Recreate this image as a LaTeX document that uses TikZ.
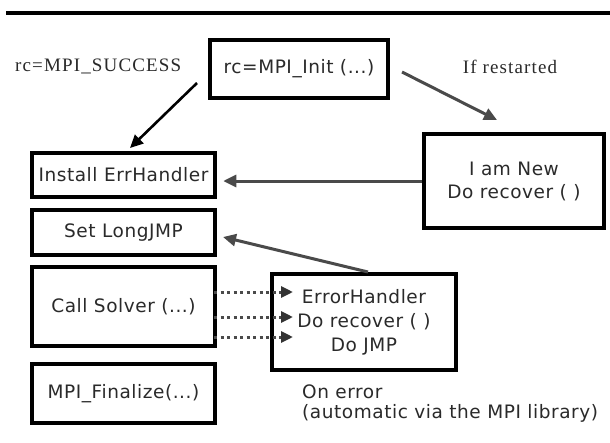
\documentclass[tikz,border=0pt]{standalone}
\usepackage{fontspec}
\setmainfont{Liberation Serif}[LetterSpace=6]
\newfontfamily\sansf{DejaVu Sans}[LetterSpace=3]
\usetikzlibrary{arrows.meta,calc}
\definecolor{arrgray}{HTML}{4A4A4A}
\definecolor{txt}{HTML}{2A2A2A}
\definecolor{tipcol}{HTML}{333333}
\begin{document}
\begin{tikzpicture}[x=1pt,y=-1pt,
  box/.style={draw=black,line width=4.5pt,rectangle,inner sep=0pt,text=txt,
    font=\sansf\fontsize{18.5}{24}\selectfont,align=center},
  lbl/.style={text=txt,font=\fontsize{19}{20}\selectfont,inner sep=0pt},
  slbl/.style={text=txt,font=\sansf\fontsize{18.5}{20}\selectfont,inner sep=0pt,align=left},
  garrow/.style={draw=arrgray,line width=3pt,-{Triangle[length=13pt,width=12pt]}},
  barrow/.style={draw=black,line width=2.6pt,-{Triangle[length=13pt,width=12pt]}},
  darrow/.style={draw=arrgray,line width=3pt,dash pattern=on 3pt off 3.5pt,
    -{Triangle[length=12pt,width=11pt,color=tipcol,fill=tipcol]}}]
\useasboundingbox (0,0) rectangle (610,442);
\fill[white] (0,0) rectangle (610,442);
\draw[line width=3.5pt] (6,13) -- (610,13);

\node[box,minimum width=178pt,minimum height=58pt] (init) at (299,69) {rc=MPI\_Init (...)};
\node[box,minimum width=180pt,minimum height=94pt] (new) at (514,181) {I am New\\[-1pt]Do recover ( )};
\node[box,minimum width=183pt,minimum height=44pt] (install) at (123.5,175) {Install ErrHandler};
\node[box,minimum width=183pt,minimum height=45pt] (setjmp) at (123.5,232.5) {Set LongJMP};
\node[box,minimum width=183pt,minimum height=79pt] (solver) at (123.5,306.5) {Call Solver (...)};
\node[box,minimum width=183pt,minimum height=59pt] (final) at (123.5,393.5) {MPI\_Finalize(...)};
\node[box,minimum width=184pt,minimum height=96pt] (err) at (364,322) {ErrorHandler\\Do recover ( )\\Do JMP};

\node[lbl,anchor=west] (succ) at (15,66) {rc=MPI\_SUCCESS};
\node[lbl] (restart) at (510,67) {If restarted};
\node[slbl,anchor=north west] (onerr) at (302,385) {On error\\(automatic via the MPI library)};

\coordinate (b1) at (197,83);
\coordinate (b2) at (130,148);
\draw[barrow] (b1) -- (b2);

\coordinate (g1) at (402,72);
\coordinate (g2) at (497,120);
\draw[garrow] (g1) -- (g2);

\draw[garrow,shorten >=6pt] (new.west) -- (new.west -| install.east);

\coordinate (e1) at (368,272);
\coordinate (e2) at (223,237);
\draw[garrow] (e1) -- (e2);

\foreach \yy/\nm in {292/d1,317/d2,337/d3}{
  \coordinate (\nm s) at (214,\yy);
  \coordinate (\nm e) at (293,\yy);
  \draw[darrow] (\nm s) -- (\nm e);
}
\end{tikzpicture}
\end{document}
